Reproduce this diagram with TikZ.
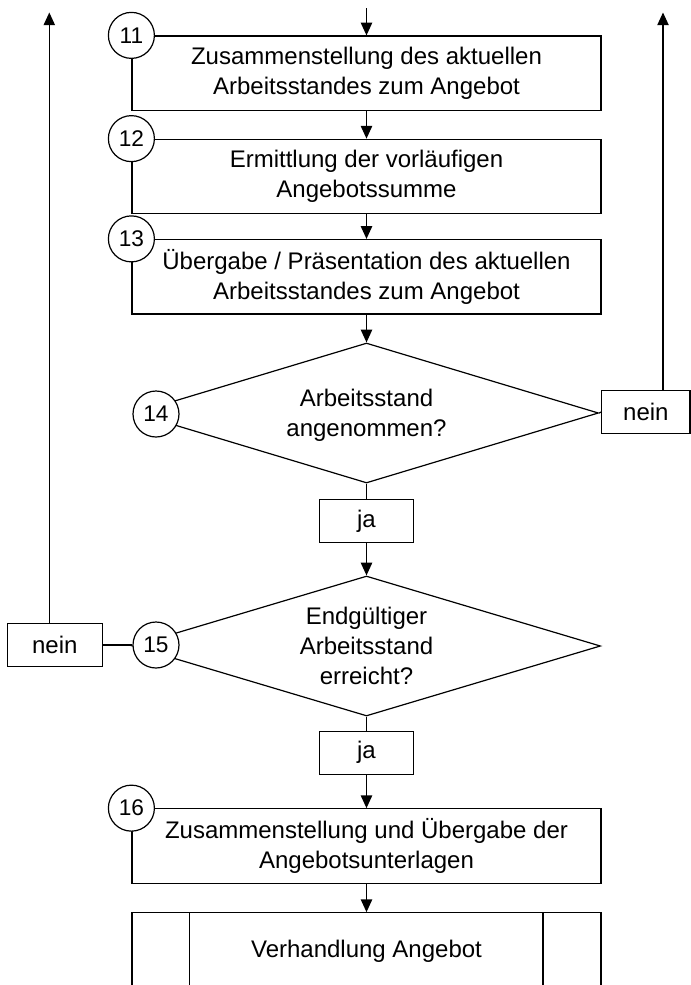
\documentclass[tikz,border=0pt]{standalone}
\usepackage{fontspec}
\setmainfont{Liberation Sans}
\usetikzlibrary{shapes.geometric,arrows.meta,calc}
\begin{document}
\begin{tikzpicture}[x=0.75pt,y=-0.75pt,
  line width=0.9pt,
  font=\fontsize{18pt}{22.5pt}\selectfont,
  procbox/.style={draw, rectangle, minimum width=351.75pt, minimum height=55.9pt, inner sep=0pt, align=center},
  numcirc/.style={draw, circle, fill=white, minimum size=34.5pt, inner sep=0pt, font=\fontsize{17pt}{19pt}\selectfont},
  decbox/.style={draw, diamond, minimum height=105pt, inner sep=0pt},
  answer/.style={draw, rectangle, minimum height=32.3pt, inner sep=0pt},
  qtext/.style={align=center, inner sep=0pt},
  arr/.style={-{Triangle[length=9.5pt,width=8.5pt]}}
]
\useasboundingbox (0,0) rectangle (691,985);
\clip (0,0) rectangle (691,985);

% process boxes
\node[procbox] (b11) at (366.5,73.25) {Zusammenstellung des aktuellen\\Arbeitsstandes zum Angebot};
\node[procbox] (b12) at (366.5,176.5) {Ermittlung der vorläufigen\\Angebotssumme};
\node[procbox] (b13) at (366.5,276.75) {Übergabe / Präsentation des aktuellen\\Arbeitsstandes zum Angebot};

% decision 14
\node[decbox, minimum width=348pt] (d14) at (366.5,413) {};
\node[qtext] (t14) at (366.5,415) {Arbeitsstand\\angenommen?};
\node[answer, minimum width=66.2pt] (n14) at (645.9,412) {nein};
\node[answer, minimum width=70.8pt] (ja1) at (366.5,521) {ja};

% decision 15
\node[decbox, minimum width=351pt] (d15) at (366.5,646) {};
\node[qtext] (t15) at (366.5,645.5) {Endgültiger\\Arbeitsstand\\erreicht?};
\node[answer, minimum width=70.8pt] (ja2) at (366.5,752.7) {ja};
\node[answer, minimum width=71.25pt] (n15) at (54.8,645) {nein};

% final boxes
\node[procbox] (b16) at (366.5,846) {Zusammenstellung und Übergabe der\\Angebotsunterlagen};
\node[draw, rectangle, minimum width=351.75pt, minimum height=61.7pt, inner sep=0pt] (sub) at (366.5,953.85) {};
\node (t16) at (366.5,951.7) {Verhandlung Angebot};
\draw ($(sub.north west)+(58.4,0)$) -- ($(sub.south west)+(58.4,0)$);
\draw ($(sub.north east)+(-58.7,0)$) -- ($(sub.south east)+(-58.7,0)$);

% number circles
\node[numcirc] (c11) at (b11.north west) {11};
\node[numcirc] (c12) at (b12.north west) {12};
\node[numcirc] (c13) at (b13.north west) {13};
\node[numcirc] (c14) at (156,414) {14};
\node[numcirc] (c15) at (156,645) {15};
\node[numcirc] (c16) at (b16.north west) {16};

% connectors
\coordinate (topin) at (366.5,8);
\coordinate (rtop) at (663,12.5);
\coordinate (ltop) at (49.3,12.5);
\draw[arr] (topin) -- (b11.north);
\draw[arr] (b11.south) -- (b12.north);
\draw[arr] (b12.south) -- (b13.north);
\draw[arr] (b13.south) -- (d14.north);
\draw (d14.south) -- (ja1.north);
\draw[arr] (ja1.south) -- (d15.north);
\draw (d15.south) -- (ja2.north);
\draw[arr] (ja2.south) -- (b16.north);
\draw[arr] (b16.south) -- (sub.north);
\draw (d14.east) -- (n14.west);
\draw[arr] (n14.north -| rtop) -- (rtop);
\draw (n15.east) -- (c15.west);
\draw[arr] (n15.north -| ltop) -- (ltop);
\end{tikzpicture}
\end{document}
